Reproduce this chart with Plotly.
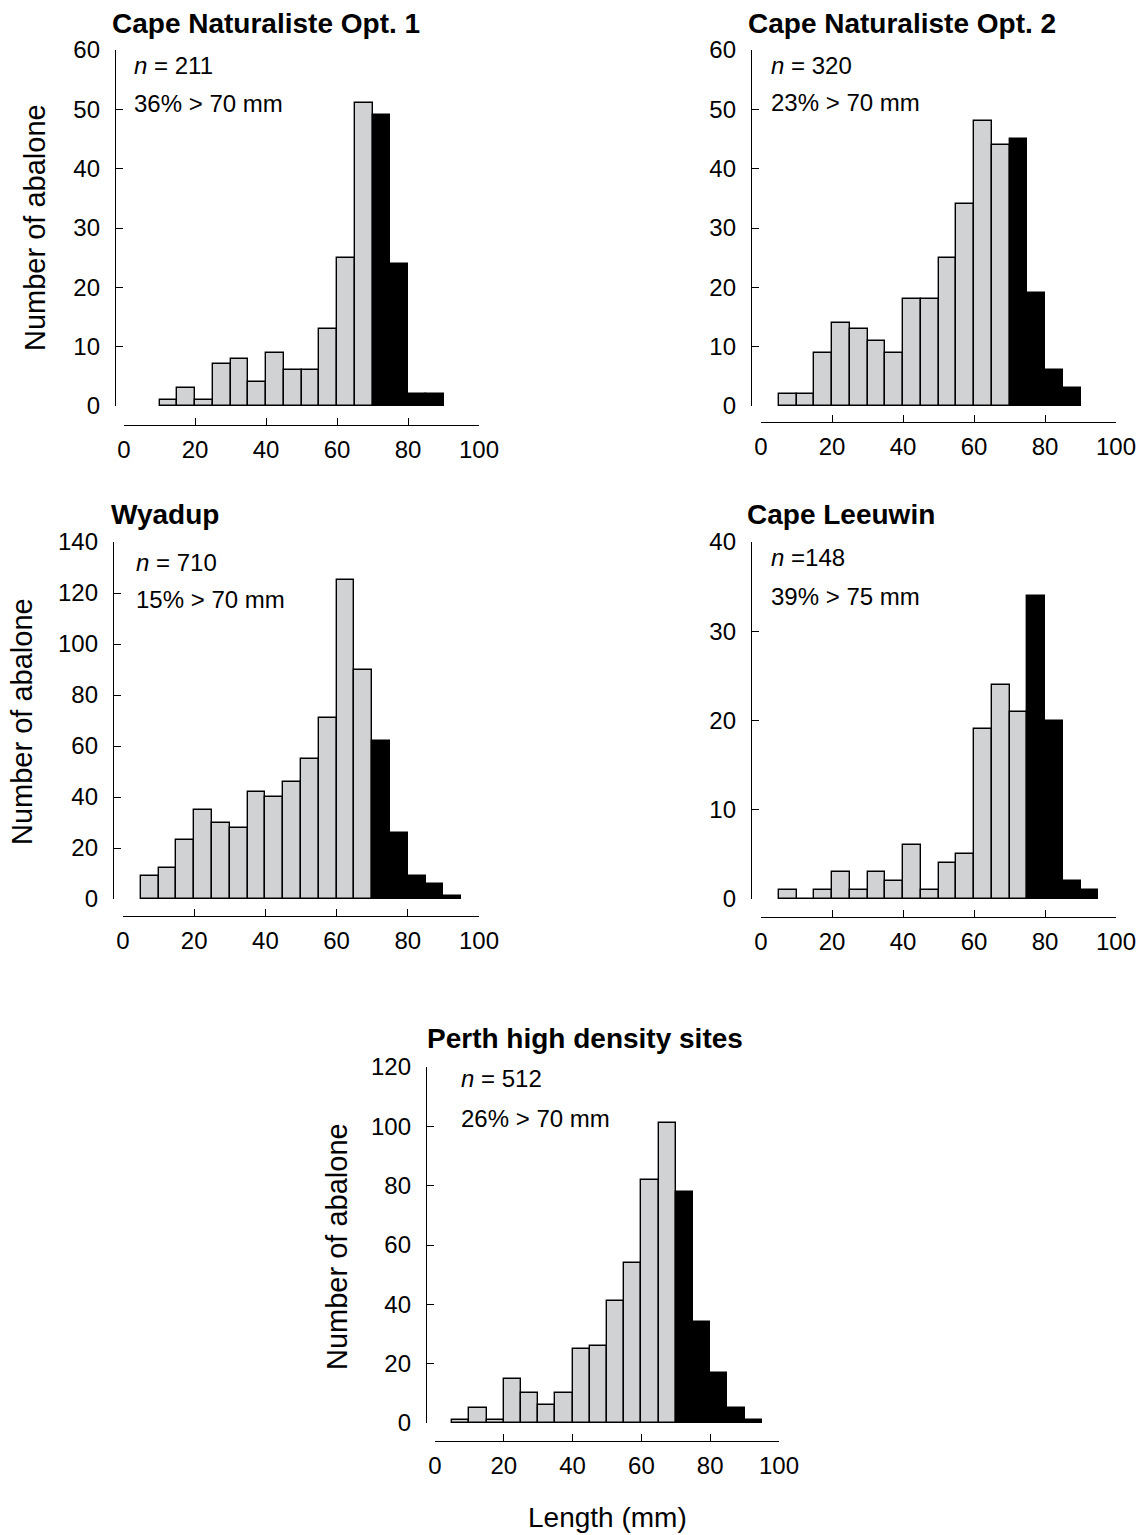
import plotly.graph_objects as go

# ---------------- data ----------------
site_names = ["Cape Naturaliste Opt. 1", "Cape Naturaliste Opt. 2", "Wyadup",
              "Cape Leeuwin", "Perth high density sites"]
n_labels = ["<i>n</i> = 211", "<i>n</i> = 320", "<i>n</i> = 710", "<i>n</i> =148", "<i>n</i> = 512"]
pct_labels = ["36% > 70 mm", "23% > 70 mm", "15% > 70 mm", "39% > 75 mm", "26% > 70 mm"]
thresholds = [70, 70, 70, 75, 70]
bin_width = 5

naturaliste1_starts = [10, 15, 20, 25, 30, 35, 40, 45, 50, 55, 60, 65, 70, 75, 80, 85]
naturaliste1_counts = [1, 3, 1, 7, 8, 4, 9, 6, 6, 13, 25, 51, 49, 24, 2, 2]

naturaliste2_starts = [5, 10, 15, 20, 25, 30, 35, 40, 45, 50, 55, 60, 65, 70, 75, 80, 85]
naturaliste2_counts = [2, 2, 9, 14, 13, 11, 9, 18, 18, 25, 34, 48, 44, 45, 19, 6, 3]

wyadup_starts = [5, 10, 15, 20, 25, 30, 35, 40, 45, 50, 55, 60, 65, 70, 75, 80, 85, 90]
wyadup_counts = [9, 12, 23, 35, 30, 28, 42, 40, 46, 55, 71, 125, 90, 62, 26, 9, 6, 1]

leeuwin_starts = [5, 10, 15, 20, 25, 30, 35, 40, 45, 50, 55, 60, 65, 70, 75, 80, 85, 90]
leeuwin_counts = [1, 0, 1, 3, 1, 3, 2, 6, 1, 4, 5, 19, 24, 21, 34, 20, 2, 1]

perth_starts = [5, 10, 15, 20, 25, 30, 35, 40, 45, 50, 55, 60, 65, 70, 75, 80, 85, 90]
perth_counts = [1, 5, 1, 15, 10, 6, 10, 25, 26, 41, 54, 82, 101, 78, 34, 17, 5, 1]

y_maxes = [60, 60, 140, 40, 120]
y_dticks = [10, 10, 20, 10, 20]
x_ticks = [0, 20, 40, 60, 80, 100]

# ---------------- layout (pixels) ----------------
W, H = 1143, 1535
FONT = "Liberation Sans, Arial, Helvetica, sans-serif"
GRAY = "#d1d2d4"

panels = [
    dict(x0=124, x1=479, yt=50, yb=406, yl=115, xl=425, tx=113, ty=24, ax=135, ay1=65, ay2=104, ytx=35, yty=228),
    dict(x0=761, x1=1116, yt=50, yb=406, yl=751, xl=422, tx=749, ty=24, ax=772, ay1=65, ay2=103, ytx=None, yty=None),
    dict(x0=123, x1=479, yt=542, yb=899, yl=113, xl=916, tx=112, ty=515, ax=137, ay1=562, ay2=600, ytx=22, yty=722),
    dict(x0=761, x1=1116, yt=542, yb=899, yl=751, xl=917, tx=748, ty=515, ax=772, ay1=557, ay2=596, ytx=None, yty=None),
    dict(x0=435, x1=779, yt=1067, yb=1423, yl=426, xl=1441, tx=428, ty=1038, ax=462, ay1=1078, ay2=1118, ytx=337, yty=1247),
]

series = [
    (naturaliste1_starts, naturaliste1_counts),
    (naturaliste2_starts, naturaliste2_counts),
    (wyadup_starts, wyadup_counts),
    (leeuwin_starts, leeuwin_counts),
    (perth_starts, perth_counts),
]

def px(x):
    return x / W

def py(y):
    return 1 - y / H

fig = go.Figure()
annotations = []
layout_axes = {}
PAD = 3

for i, ((starts, counts), p) in enumerate(zip(series, panels)):
    k = "" if i == 0 else str(i + 1)
    xa, ya = "x" + k, "y" + k
    centers = [s + bin_width / 2 for s in starts]
    colors = ["black" if s >= thresholds[i] else GRAY for s in starts]
    fig.add_trace(go.Bar(
        x=centers, y=counts, width=bin_width,
        marker=dict(color=colors, line=dict(color="black", width=1.4)),
        xaxis=xa, yaxis=ya, cliponaxis=False, showlegend=False, hoverinfo="skip",
    ))
    layout_axes["xaxis" + k] = dict(
        domain=[px(p["x0"]), px(p["x1"])], range=[0, 100], anchor="free",
        position=py(p["xl"]), tickvals=x_ticks, ticks="inside", ticklen=7,
        tickwidth=1.3, tickcolor="black", showline=True, linecolor="black",
        linewidth=1.3, showgrid=False, zeroline=False, fixedrange=True, automargin=False,
        tickfont=dict(family=FONT, size=24, color="black"), ticklabelstandoff=3,
    )
    layout_axes["yaxis" + k] = dict(
        domain=[py(p["yb"]), py(p["yt"])], range=[0, y_maxes[i]], anchor="free",
        position=px(p["yl"]), dtick=y_dticks[i], tick0=0, ticks="inside", ticklen=7,
        tickwidth=1.3, tickcolor="black", showline=True, linecolor="black",
        linewidth=1.3, showgrid=False, zeroline=False, fixedrange=True, automargin=False,
        tickfont=dict(family=FONT, size=24, color="black"), ticklabelstandoff=10,
    )
    annotations.append(dict(
        text="<b>" + site_names[i] + "</b>", xref="paper", yref="paper",
        x=px(p["tx"] - PAD), y=py(p["ty"]), xanchor="left", yanchor="middle", showarrow=False,
        font=dict(family=FONT, size=28, color="black"),
    ))
    annotations.append(dict(
        text=n_labels[i], xref="paper", yref="paper",
        x=px(p["ax"] - PAD), y=py(p["ay1"]), xanchor="left", yanchor="middle", showarrow=False,
        font=dict(family=FONT, size=24, color="black"),
    ))
    annotations.append(dict(
        text=pct_labels[i], xref="paper", yref="paper",
        x=px(p["ax"] - PAD), y=py(p["ay2"]), xanchor="left", yanchor="middle", showarrow=False,
        font=dict(family=FONT, size=24, color="black"),
    ))
    if p["ytx"] is not None:
        annotations.append(dict(
            text="Number of abalone", xref="paper", yref="paper", textangle=-90,
            x=px(p["ytx"]), y=py(p["yty"]), xanchor="center", yanchor="middle", showarrow=False,
            font=dict(family=FONT, size=29, color="black"),
        ))

annotations.append(dict(
    text="Length (mm)", xref="paper", yref="paper",
    x=px(607), y=py(1517), xanchor="center", yanchor="middle", showarrow=False,
    font=dict(family=FONT, size=28, color="black"),
))

fig.update_layout(
    template="none",
    width=W, height=H, autosize=False,
    margin=dict(l=0, r=0, t=0, b=0, pad=0, autoexpand=False),
    paper_bgcolor="white", plot_bgcolor="white",
    bargap=0, annotations=annotations, dragmode=False,
    **layout_axes,
)

fig.write_html("out.html", config={"displayModeBar": False})
